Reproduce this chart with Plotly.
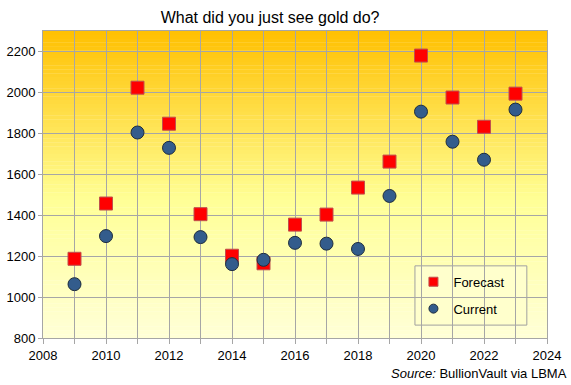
import plotly.graph_objects as go

years = list(range(2009, 2024))
forecast = [1187, 1457, 2023, 1847, 1405, 1202, 1165, 1354, 1403, 1535, 1662, 2180, 1975, 1832, 1994]
current = [1063, 1298, 1804, 1729, 1293, 1161, 1182, 1265, 1261, 1235, 1494, 1906, 1759, 1671, 1916]

title = "What did you just see gold do?"
source = "<i>Source:</i> BullionVault via LBMA"

f_marker = dict(symbol="square", color="#FF0000", line=dict(color="#C0504D", width=1))
c_marker = dict(symbol="circle", color="#335C8C", line=dict(color="#1F2D3D", width=1))

fig = go.Figure()
fig.add_trace(go.Scatter(x=years, y=forecast, mode="markers", name="Forecast", showlegend=False,
                         marker=dict(size=13, **f_marker)))
fig.add_trace(go.Scatter(x=years, y=current, mode="markers", name="Current", showlegend=False,
                         marker=dict(size=13, **c_marker)))
# legend entries (smaller symbols)
fig.add_trace(go.Scatter(x=[None], y=[None], mode="markers", name="Forecast", legendgroup="f",
                         marker=dict(size=9, **f_marker)))
fig.add_trace(go.Scatter(x=[None], y=[None], mode="markers", name="Current", legendgroup="c",
                         marker=dict(size=9, **c_marker)))

# gradient background
def lerp(c1, c2, t):
    return tuple(round(a + (b - a) * t) for a, b in zip(c1, c2))

stops = [(0.0, (255, 192, 0)), (0.55, (255, 255, 150)), (1.0, (255, 255, 215))]
n = 80
shapes = []
for i in range(n):
    t = (i + 0.5) / n  # from top
    for j in range(len(stops) - 1):
        if stops[j][0] <= t <= stops[j + 1][0]:
            tt = (t - stops[j][0]) / (stops[j + 1][0] - stops[j][0])
            c = lerp(stops[j][1], stops[j + 1][1], tt)
            break
    y1 = 1 - i / n
    y0 = 1 - (i + 1) / n
    shapes.append(dict(type="rect", xref="paper", yref="paper", x0=0, x1=1, y0=y0 - 0.001, y1=y1,
                       fillcolor="rgb(%d,%d,%d)" % c, line=dict(width=0), layer="below"))

# legend box
shapes.append(dict(type="rect", xref="paper", yref="paper", x0=0.738, x1=0.960, y0=0.042, y1=0.235,
                   fillcolor="#FFFFCC", line=dict(color="#A0A0A0", width=1), layer="between"))

fig.update_layout(
    width=571, height=385,
    margin=dict(l=43, r=24, t=31, b=47),
    paper_bgcolor="white",
    plot_bgcolor="rgba(0,0,0,0)",
    shapes=shapes,
    font=dict(family="Liberation Sans, Arial, sans-serif", size=13, color="black"),
    title=dict(text=title, x=0.473, xanchor="center", y=0.955, yanchor="middle",
               font=dict(size=16, color="black")),
    showlegend=True,
    legend=dict(x=0.735, y=0.232, xanchor="left", yanchor="top",
                bgcolor="rgba(0,0,0,0)", borderwidth=0,
                traceorder="grouped", tracegroupgap=7,
                font=dict(size=13)),
    annotations=[dict(text=source, xref="paper", yref="paper", x=1.043, y=-0.117,
                      xanchor="right", yanchor="middle", showarrow=False,
                      font=dict(size=13))],
)
fig.update_xaxes(range=[2008, 2024], dtick=2, tick0=2008, showgrid=True, gridcolor="#A6A6A6",
                 gridwidth=1, showline=True, linecolor="#A6A6A6", ticks="outside", ticklen=5,
                 tickcolor="#A6A6A6", zeroline=False, mirror=True, automargin=False,
                 minor=dict(dtick=1, tick0=2008, showgrid=True, gridcolor="#A6A6A6",
                            ticks="outside", ticklen=5, tickcolor="#A6A6A6"))
fig.update_yaxes(range=[800, 2300], dtick=200, tick0=800, showgrid=True, gridcolor="#A6A6A6",
                 gridwidth=1, showline=True, linecolor="#A6A6A6", ticks="outside", ticklen=4,
                 tickcolor="#A6A6A6", zeroline=False, mirror=True, automargin=False)

fig.write_html("out.html", config={"displayModeBar": False},
               post_script="document.body.style.margin='0';")
